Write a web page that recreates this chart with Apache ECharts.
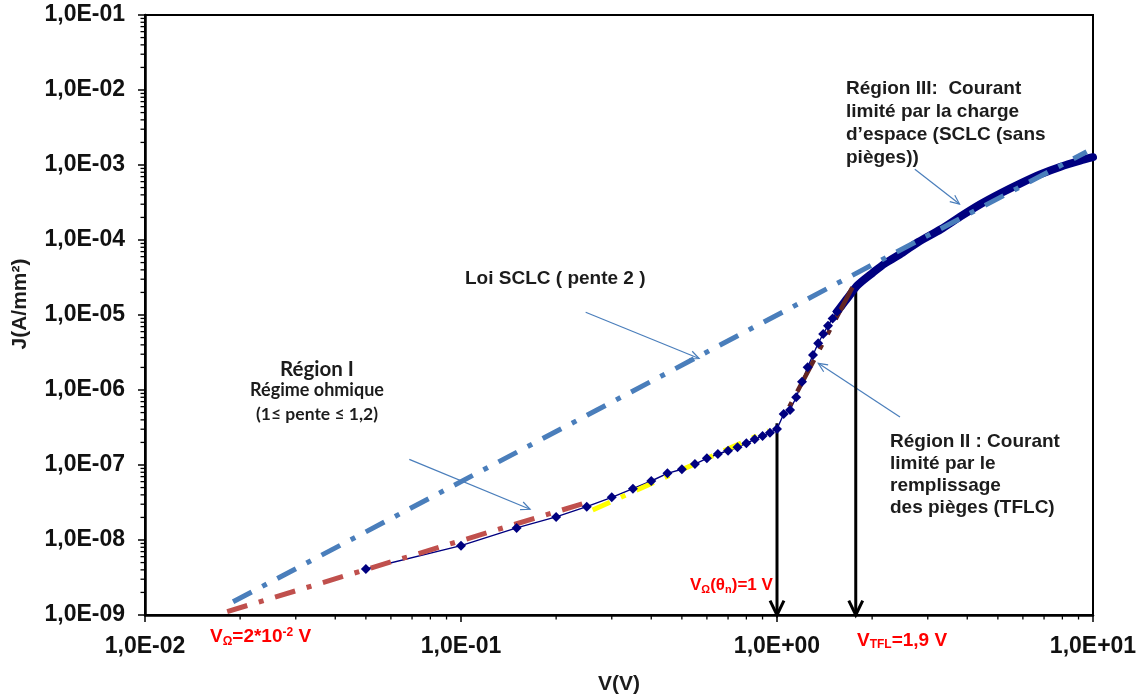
<!DOCTYPE html>
<html>
<head>
<meta charset="utf-8">
<script src="https://cdn.jsdelivr.net/npm/echarts@6/dist/echarts.min.js"></script>
<style>
  html, body { margin: 0; padding: 0; background: #ffffff; }
  #chart { width: 1140px; height: 700px; }
</style>
</head>
<body>
<div id="chart"></div>
<script>
// Caractéristique J(V) : mesures (tension en V, densité de courant en A/mm²)
const voltage = [0.05, 0.1, 0.15, 0.2, 0.25, 0.3, 0.35, 0.4, 0.45, 0.5, 0.55, 0.6, 0.65, 0.7, 0.75,
                 0.8, 0.85, 0.9, 0.95, 1.0, 1.05, 1.1, 1.15, 1.2, 1.25, 1.3, 1.35, 1.4, 1.45, 1.5, 1.55];
const current = [4.1e-9, 8.4e-9, 1.45e-8, 2.03e-8, 2.78e-8, 3.71e-8, 4.83e-8, 6.12e-8, 7.74e-8, 8.77e-8,
                 1.03e-7, 1.23e-7, 1.40e-7, 1.55e-7, 1.72e-7, 1.95e-7, 2.20e-7, 2.44e-7, 2.70e-7, 3.02e-7,
                 4.79e-7, 5.41e-7, 8.0e-7, 1.29e-6, 2.01e-6, 2.93e-6, 4.2e-6, 5.58e-6, 7.2e-6, 9.0e-6, 1.11e-5];

// Région III : mesures serrées (tracé épais)
const voltageHigh = [1.55, 1.6, 1.7, 1.8, 2.0, 2.2, 2.5, 2.8, 3.3, 3.8, 4.4, 5.1, 5.9, 6.8, 7.9, 9.1, 10];
const currentHigh = [1.11e-5, 1.32e-5, 1.85e-5, 2.5e-5, 3.6e-5, 4.9e-5, 6.8e-5, 9.4e-5, 1.39e-4, 2.05e-4,
                     3.0e-4, 4.2e-4, 5.7e-4, 7.5e-4, 9.5e-4, 1.14e-3, 1.27e-3];

// Droites d'ajustement (extrémités)
const sclcFitV = [0.019, 9.55];   const sclcFitJ = [1.5e-9, 1.5e-3];
const ohmicFitV = [0.0182, 0.253]; const ohmicFitJ = [1.11e-9, 3.21e-8];
const midFitV = [0.261, 0.939];   const midFitJ = [2.51e-8, 2.87e-7];
const tflFitV = [1.094, 1.787];   const tflFitJ = [5.99e-7, 2.99e-5];

// Tensions caractéristiques (flèches verticales) : V et J au départ de la flèche
const markerV = [1.0, 1.775];
const markerTopJ = [3.6e-7, 2.67e-5];

// Flèches de renvoi des commentaires : [V départ, J départ, V arrivée, J arrivée]
const pointerStartV = [0.0686, 0.248, 2.45, 2.73];
const pointerStartJ = [1.19e-7, 1.09e-5, 4.37e-7, 8.77e-4];
const pointerEndV = [0.1654, 0.567, 1.351, 3.78];
const pointerEndJ = [2.57e-8, 2.63e-6, 2.27e-6, 3.02e-4];

// Bornes des axes logarithmiques
const xRange = [1e-2, 1e1];
const yRange = [1e-9, 1e-1];

const NAVY = '#000080';
const FONT = '"Liberation Sans", Arial, Helvetica, sans-serif';

function sciLabel(value) {
  const e = Math.round(Math.log10(value));
  return '1,0E' + (e < 0 ? '-' : '+') + String(Math.abs(e)).padStart(2, '0');
}

function pairs(xs, ys) { return xs.map((x, i) => [x, ys[i]]); }

// Graduations secondaires (2..9 dans chaque décade)
function minorValues(range) {
  const out = [];
  const e0 = Math.round(Math.log10(range[0]));
  const e1 = Math.round(Math.log10(range[1]));
  for (let e = e0; e < e1; e++) {
    for (let m = 2; m <= 9; m++) out.push(m * Math.pow(10, e));
  }
  return out;
}

function arrowShape(a, b, head, spread, color, width) {
  const ang = Math.atan2(b[1] - a[1], b[0] - a[0]);
  const h1 = [b[0] - head * Math.cos(ang - spread), b[1] - head * Math.sin(ang - spread)];
  const h2 = [b[0] - head * Math.cos(ang + spread), b[1] - head * Math.sin(ang + spread)];
  return {
    type: 'group',
    children: [
      { type: 'line', shape: { x1: a[0], y1: a[1], x2: b[0], y2: b[1] },
        style: { stroke: color, lineWidth: width } },
      { type: 'polyline', shape: { points: [h1, b, h2] },
        style: { stroke: color, lineWidth: width, fill: null, lineJoin: 'miter' } }
    ]
  };
}

// Étiquettes avec indices / exposants, posées sur une ligne de base
const measureCtx = document.createElement('canvas').getContext('2d');
function scriptedLabel(x, baseline, parts, color) {
  const els = [];
  let cx = x;
  parts.forEach(p => {
    const font = 'bold ' + p.size + 'px ' + FONT;
    measureCtx.font = font;
    els.push({
      type: 'text', x: cx, y: baseline + (p.dy || 0) - 0.3465 * p.size, silent: true,
      style: { text: p.t, font: font, fill: color, align: 'left', verticalAlign: 'middle',
               textAlign: 'left', textVerticalAlign: 'middle' }
    });
    cx += measureCtx.measureText(p.t).width;
  });
  return els;
}

function textBlock(x, y, text, size, lineHeight, family, align, vAlign) {
  return {
    type: 'text', x: x, y: y, silent: true,
    style: { text: text, font: 'bold ' + size + 'px ' + family, lineHeight: lineHeight,
             fill: '#1c1c1c', align: align, verticalAlign: vAlign,
             textAlign: align, textVerticalAlign: vAlign }
  };
}

const RED = '#ff0000';
const LATO = 'Lato, "Open Sans", sans-serif';

const graphics = [].concat(
  [
    textBlock(846, 77, 'Région III:  Courant\nlimité par la charge\nd\u2019espace (SCLC (sans\npièges))', 19, 23, FONT, 'left', 'top'),
    textBlock(890, 431, 'Région II : Courant\nlimité par le\nremplissage\ndes pièges (TFLC)', 19, 22, FONT, 'left', 'top'),
    textBlock(465, 278.5, 'Loi SCLC ( pente 2 )', 19, 23, FONT, 'left', 'middle'),
    textBlock(317, 369, 'Région I', 20.5, 22, LATO, 'center', 'middle'),
    textBlock(317, 390.5, 'Régime ohmique', 18, 20, LATO, 'center', 'middle'),
    textBlock(317, 414.5, '(1\u2264 pente \u2264 1,2)', 17.5, 20, LATO, 'center', 'middle'),
    {
      type: 'text', x: 20, y: 304, rotation: Math.PI / 2, silent: true,
      style: { text: 'J(A/mm\u00b2)', font: 'bold 21px ' + FONT, fill: '#1c1c1c',
               align: 'center', verticalAlign: 'middle', textAlign: 'center', textVerticalAlign: 'middle' }
    },
    {
      type: 'text', x: 619, y: 684.5, silent: true,
      style: { text: 'V(V)', font: 'bold 21px ' + FONT, fill: '#1c1c1c',
               align: 'center', verticalAlign: 'middle', textAlign: 'center', textVerticalAlign: 'middle' }
    }
  ],
  scriptedLabel(210, 643, [
    { t: 'V', size: 19 }, { t: '\u03a9', size: 12, dy: 3 }, { t: '=2*10', size: 19 },
    { t: '-2', size: 12, dy: -6.5 }, { t: ' V', size: 19 }
  ], RED),
  scriptedLabel(690, 591.7, [
    { t: 'V', size: 17 }, { t: '\u03a9', size: 11, dy: 2.5 }, { t: '(\u03b8', size: 17 },
    { t: 'n', size: 11, dy: 2.5 }, { t: ')=1 V', size: 17 }
  ], RED),
  scriptedLabel(857, 647.3, [
    { t: 'V', size: 19 }, { t: 'TFL', size: 12, dy: 1.5 }, { t: '=1,9 V', size: 19 }
  ], RED)
);

const chart = echarts.init(document.getElementById('chart'), null, { renderer: 'canvas' });

const option = {
  animation: false,
  backgroundColor: '#ffffff',
  grid: {
    left: 145, right: 47, top: 15, bottom: 85,
    show: true, borderColor: '#000', borderWidth: 2, backgroundColor: 'transparent',
    containLabel: false, outerBoundsMode: 'none'
  },
  xAxis: {
    type: 'log', logBase: 10, min: xRange[0], max: xRange[1],
    axisLine: { show: true, onZero: false, lineStyle: { color: '#000', width: 2.5 } },
    axisTick: { show: true, length: 7, lineStyle: { color: '#000', width: 1.5 } },
    axisLabel: { margin: 20, formatter: sciLabel, color: '#111', fontSize: 23, fontWeight: 'bold', fontFamily: FONT },
    splitLine: { show: false }
  },
  yAxis: {
    type: 'log', logBase: 10, min: yRange[0], max: yRange[1],
    axisLine: { show: true, onZero: false, lineStyle: { color: '#000', width: 2.5 } },
    axisTick: { show: true, length: 7, lineStyle: { color: '#000', width: 1.5 } },
    axisLabel: { margin: 20, formatter: sciLabel, color: '#111', fontSize: 23, fontWeight: 'bold', fontFamily: FONT },
    splitLine: { show: false }
  },
  graphic: { elements: graphics },
  series: [
    {
      name: 'minor-x', type: 'custom', silent: true, clip: false,
      data: minorValues(xRange).map(v => [v, yRange[0]]),
      renderItem: (params, api) => {
        const p = api.coord([api.value(0), api.value(1)]);
        return { type: 'line', shape: { x1: p[0], y1: p[1], x2: p[0], y2: p[1] + 4.5 },
                 style: { stroke: '#000', lineWidth: 1.3 } };
      }
    },
    {
      name: 'minor-y', type: 'custom', silent: true, clip: false,
      data: minorValues(yRange).map(v => [xRange[0], v]),
      renderItem: (params, api) => {
        const p = api.coord([api.value(0), api.value(1)]);
        return { type: 'line', shape: { x1: p[0] - 4.5, y1: p[1], x2: p[0], y2: p[1] },
                 style: { stroke: '#000', lineWidth: 1.3 } };
      }
    },
    {
      name: 'J(V)', type: 'line', data: pairs(voltage, current),
      symbol: 'diamond', symbolSize: 10,
      itemStyle: { color: NAVY },
      lineStyle: { color: NAVY, width: 1.4 }
    },
    {
      name: 'J(V) région III', type: 'line', data: pairs(voltageHigh, currentHigh),
      symbol: 'none', smooth: 0.3,
      lineStyle: { color: NAVY, width: 8, cap: 'round', join: 'round' }
    },
    {
      name: 'ohmique', type: 'line', data: pairs(ohmicFitV, ohmicFitJ), symbol: 'none',
      lineStyle: { color: '#c0504d', width: 5, type: [21, 12, 5, 12], cap: 'butt' }
    },
    {
      name: 'intermédiaire', type: 'line', data: pairs(midFitV, midFitJ), symbol: 'none',
      lineStyle: { color: '#ffff00', width: 5, type: [19, 12, 5, 12], cap: 'butt' }
    },
    {
      name: 'TFLC', type: 'line', data: pairs(tflFitV, tflFitJ), symbol: 'none',
      lineStyle: { color: '#632523', width: 4.5, type: [36, 12, 5, 12, 5, 12], dashOffset: 65, cap: 'butt' }
    },
    {
      name: 'SCLC', type: 'line', data: pairs(sclcFitV, sclcFitJ), symbol: 'none',
      lineStyle: { color: '#4a7ebb', width: 5, type: [21, 12, 5, 12], cap: 'butt' }
    },
    {
      name: 'renvois', type: 'custom', silent: true, clip: false,
      encode: { x: [0, 2], y: [1, 3] },
      data: pointerStartV.map((v, i) => [v, pointerStartJ[i], pointerEndV[i], pointerEndJ[i]]),
      renderItem: (params, api) => arrowShape(
        api.coord([api.value(0), api.value(1)]), api.coord([api.value(2), api.value(3)]),
        10, 0.42, '#4a7ebb', 1.2)
    },
    {
      name: 'tensions', type: 'custom', silent: true, clip: false,
      encode: { x: [0, 2], y: [1, 3] },
      data: markerV.map((v, i) => [v, markerTopJ[i], v, yRange[0]]),
      renderItem: (params, api) => arrowShape(
        api.coord([api.value(0), api.value(1)]), api.coord([api.value(2), api.value(3)]),
        16, 0.45, '#000', 3)
    }
  ]
};

chart.setOption(option);
</script>
</body>
</html>
